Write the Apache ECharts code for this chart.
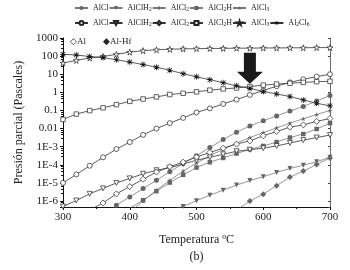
<!DOCTYPE html>
<html>
<head>
<meta charset="utf-8">
<script src="https://cdn.jsdelivr.net/npm/echarts@6.0.0/dist/echarts.min.js"></script>
<style>
html,body{margin:0;padding:0;background:#fff;}
#main{width:350px;height:270px;}
</style>
</head>
<body>
<div id="main"></div>
<script>
// temperatura (ºC)
var temps = [300,320,340,360,380,400,420,440,460,480,500,520,540,560,580,600,620,640,660,680,700];

// Al (simbolos abiertos), presion en Pa
var al_AlCl   = [1.0e-5,2.95e-5,8.9e-5,2.6e-4,7.4e-4,1.8e-3,4.5e-3,0.010,0.020,0.039,0.078,0.13,0.23,0.40,0.72,1.26,2.19,3.55,5.25,7.4,10];
var al_AlClH2 = [5.0e-7,1.07e-6,2.5e-6,5.0e-6,1.0e-5,1.78e-5,3.2e-5,5.0e-5,6.9e-5,1.12e-4,1.78e-4,2.6e-4,3.8e-4,5.6e-4,6.8e-4,8.3e-4,1.1e-3,1.6e-3,2.3e-3,3.2e-3,4.4e-3];
var al_AlCl2  = [null,null,3.2e-7,7.9e-7,2.5e-6,6.3e-6,1.6e-5,4.0e-5,7.9e-5,1.4e-4,2.7e-4,4.8e-4,8.3e-4,1.4e-3,2.1e-3,4.0e-3,6.9e-3,0.012,0.016,0.025,0.036];
var al_AlCl2H = [0.032,0.063,0.098,0.14,0.21,0.32,0.43,0.56,0.76,0.89,1.07,1.32,1.55,1.74,2.09,2.51,2.88,3.16,3.55,3.89,4.07];
var al_AlCl3  = [42,58,79,95,126,166,200,224,240,251,257,263,269,275,275,282,282,288,288,295,295];
var al_Al2Cl6 = [126,115,95,83,63,47,34,24.5,16.6,10.7,7.2,5.0,3.4,2.3,1.66,1.12,0.81,0.59,0.38,0.25,0.18];

// Al-Hf (simbolos llenos)
var hf_AlCl   = [null,null,null,1.6e-7,5.8e-7,1.7e-6,4.9e-6,1.4e-5,4.2e-5,1.17e-4,3.2e-4,8.9e-4,2.5e-3,6.3e-3,0.014,0.027,0.05,0.093,0.166,0.33,0.68];
var hf_AlClH2 = [null,null,null,null,null,null,null,null,3.2e-7,5.0e-7,1.05e-6,2.1e-6,4.0e-6,7.6e-6,1.35e-5,2.2e-5,3.8e-5,6.3e-5,9.5e-5,1.48e-4,2.6e-4];
var hf_AlCl2  = [null,null,null,null,null,null,null,null,null,null,null,null,null,3.2e-7,1.0e-6,2.4e-6,7.1e-6,2.1e-5,4.5e-5,1.05e-4,2.4e-4];
var hf_AlCl2H = [null,null,null,null,2.0e-7,4.0e-7,1.12e-6,3.5e-6,1.05e-5,2.8e-5,7.1e-5,1.4e-4,2.4e-4,4.2e-4,7.2e-4,1.1e-3,1.8e-3,3.2e-3,5.0e-3,9.5e-3,0.02];
var hf_AlCl3  = [null,null,null,null,null,2.5e-7,1.0e-6,4.0e-6,1.4e-5,4.5e-5,1.26e-4,3.2e-4,7.1e-4,1.6e-3,3.2e-3,6.0e-3,0.011,0.02,0.035,0.06,0.1];

// ticks del eje x
var xTicks = [300,400,500,600,700];
// punta de la flecha (T, Pa)
var arrowTip = [580, 3.0];

var FONT = '"Liberation Serif","DejaVu Serif",serif';
var STAR = 'path://M50,0 L61,35 L98,35 L68,57 L79,91 L50,70 L21,91 L32,57 L2,35 L39,35 Z';
var ASTER = 'path://M44,0 L56,0 L56,100 L44,100 Z M0,44 L100,44 L100,56 L0,56 Z M8,16 L16,8 L92,84 L84,92 Z M84,8 L92,16 L16,92 L8,84 Z';

function pairs(arr) {
	var out = [];
	for (var i = 0; i < temps.length; i++) {
		out.push([temps[i], arr[i] == null ? '-' : arr[i]]);
	}
	return out;
}

// serie: open = simbolo blanco (Al), si no gris lleno (Al-Hf)
function makeSeries(name, arr, symbol, open, rotate, size) {
	return {
		name: name,
		type: 'line',
		data: pairs(arr),
		symbol: symbol,
		symbolSize: size || 5,
		symbolRotate: rotate || 0,
		showAllSymbol: true,
		connectNulls: false,
		clip: true,
		lineStyle: {color: open ? '#333' : '#7a7a7a', width: 0.8},
		itemStyle: open ? {color: '#fff', borderColor: '#222', borderWidth: 0.7}
		                : {color: '#666', borderWidth: 0},
		emphasis: {disabled: true}
	};
}

var series = [
	makeSeries('hf-AlCl', hf_AlCl, 'circle', false),
	makeSeries('hf-AlClH2', hf_AlClH2, 'triangle', false, 180),
	makeSeries('hf-AlCl2', hf_AlCl2, 'diamond', false, 0, 6),
	makeSeries('hf-AlCl2H', hf_AlCl2H, 'rect', false, 0, 4.5),
	makeSeries('hf-AlCl3', hf_AlCl3, STAR, false, 0, 5),
	makeSeries('al-AlCl', al_AlCl, 'circle', true),
	makeSeries('al-AlClH2', al_AlClH2, 'triangle', true, 180),
	makeSeries('al-AlCl2', al_AlCl2, 'diamond', true, 0, 6),
	makeSeries('al-AlCl2H', al_AlCl2H, 'rect', true, 0, 4.5),
	makeSeries('al-AlCl3', al_AlCl3, STAR, true, 0, 6),
	makeSeries('al-Al2Cl6', al_Al2Cl6, ASTER, false, 0, 6)
];
// asterisco negro
series[10].itemStyle = {color: '#111'};
series[10].lineStyle = {color: '#333', width: 0.8};

// nombre con subindices
function legendName(name) {
	var s = name.replace(/^(hf|al)-/, '');
	var parts = s.split(/(\d+)/);
	var out = '';
	for (var i = 0; i < parts.length; i++) {
		if (parts[i] === '') continue;
		out += /\d/.test(parts[i]) ? '{s|' + parts[i] + '}' : '{n|' + parts[i] + '}';
	}
	return out;
}

var legendText = {
	fontFamily: FONT, color: '#222',
	rich: {
		n: {fontFamily: FONT, fontSize: 8, color: '#222'},
		s: {fontFamily: FONT, fontSize: 5.5, color: '#222', padding: [4, 0, 0, 0]}
	}
};

function fmtY(v) {
	var e = Math.round(Math.log(v) / Math.LN10);
	if (e >= 0) return String(Math.pow(10, e));
	if (e == -1) return '0.1';
	if (e == -2) return '0.01';
	return '1E' + e;
}

var yMin = 4.7e-7, yMax = 1000;

var myChart = echarts.init(document.getElementById('main'), null, {renderer: 'canvas'});

var option = {
	animation: false,
	backgroundColor: '#fff',
	grid: {left: 63, right: 20, top: 38, bottom: 60},
	legend: [
		{
			data: ['hf-AlCl','hf-AlClH2','hf-AlCl2','hf-AlCl2H','hf-AlCl3'],
			left: 74, top: 4, padding: 0, itemGap: 0,
			itemWidth: 13, itemHeight: 5,
			formatter: legendName, textStyle: legendText,
			selectedMode: false
		},
		{
			data: ['al-AlCl','al-AlClH2','al-AlCl2','al-AlCl2H','al-AlCl3','al-Al2Cl6'],
			left: 74, top: 19, padding: 0, itemGap: 0,
			itemWidth: 13, itemHeight: 5,
			formatter: legendName, textStyle: legendText,
			selectedMode: false
		}
	],
	xAxis: {
		type: 'value',
		min: 300, max: 700, interval: 100,
		name: 'Temperatura ºC\n(b)',
		nameLocation: 'middle',
		nameGap: 24,
		nameTextStyle: {fontFamily: FONT, fontSize: 12, color: '#222', lineHeight: 17},
		axisLine: {lineStyle: {color: '#111', width: 1}},
		axisTick: {length: 3, lineStyle: {color: '#111'}},
		minorTick: {show: true, splitNumber: 2, length: 2, lineStyle: {color: '#111'}},
		axisLabel: {fontFamily: FONT, fontSize: 11, color: '#222', margin: 5,
			formatter: function (v) { return xTicks.indexOf(v) >= 0 ? String(v) : ''; }},
		splitLine: {show: false}
	},
	yAxis: [
		{
			type: 'log', logBase: 10,
			min: yMin, max: yMax, splitNumber: 10,
			name: 'Presión parcial (Pascales)',
			nameLocation: 'middle',
			nameGap: 34,
			nameTextStyle: {fontFamily: FONT, fontSize: 12, color: '#222'},
			axisLine: {show: true, lineStyle: {color: '#111', width: 1}},
			axisTick: {show: true, length: 3, lineStyle: {color: '#111'}},
			minorTick: {show: true, splitNumber: 5, length: 2, lineStyle: {color: '#111'}},
			axisLabel: {fontFamily: FONT, fontSize: 11, color: '#222', margin: 5,
				showMinLabel: false, formatter: fmtY},
			splitLine: {show: false}
		},
		{
			type: 'log', logBase: 10,
			min: yMin, max: yMax, splitNumber: 10,
			position: 'right',
			axisLine: {show: true, lineStyle: {color: '#444', width: 0.8}},
			axisTick: {show: true, inside: true, length: 2, lineStyle: {color: '#444'}},
			minorTick: {show: false},
			axisLabel: {show: false},
			splitLine: {show: false}
		}
	],
	series: series
};

myChart.setOption(option);

// flecha y leyenda interior
var tip = myChart.convertToPixel({xAxisIndex: 0, yAxisIndex: 0}, arrowTip);
var tx = tip[0], ty = tip[1];
myChart.setOption({
	graphic: [
		{
			type: 'polygon',
			shape: {points: [[tx - 6, ty - 31], [tx + 6, ty - 31], [tx + 6, ty - 12], [tx + 13, ty - 12],
				[tx, ty], [tx - 13, ty - 12], [tx - 6, ty - 12]]},
			style: {fill: '#1a1a1a'},
			z: 10
		},
		{
			type: 'text', left: 70, top: 37,
			style: {text: '◇Al', font: '9px ' + FONT, fill: '#222'}
		},
		{
			type: 'text', left: 103, top: 37,
			style: {text: '◆Al-Hf', font: '9px ' + FONT, fill: '#222'}
		}
	]
});
</script>
</body>
</html>
